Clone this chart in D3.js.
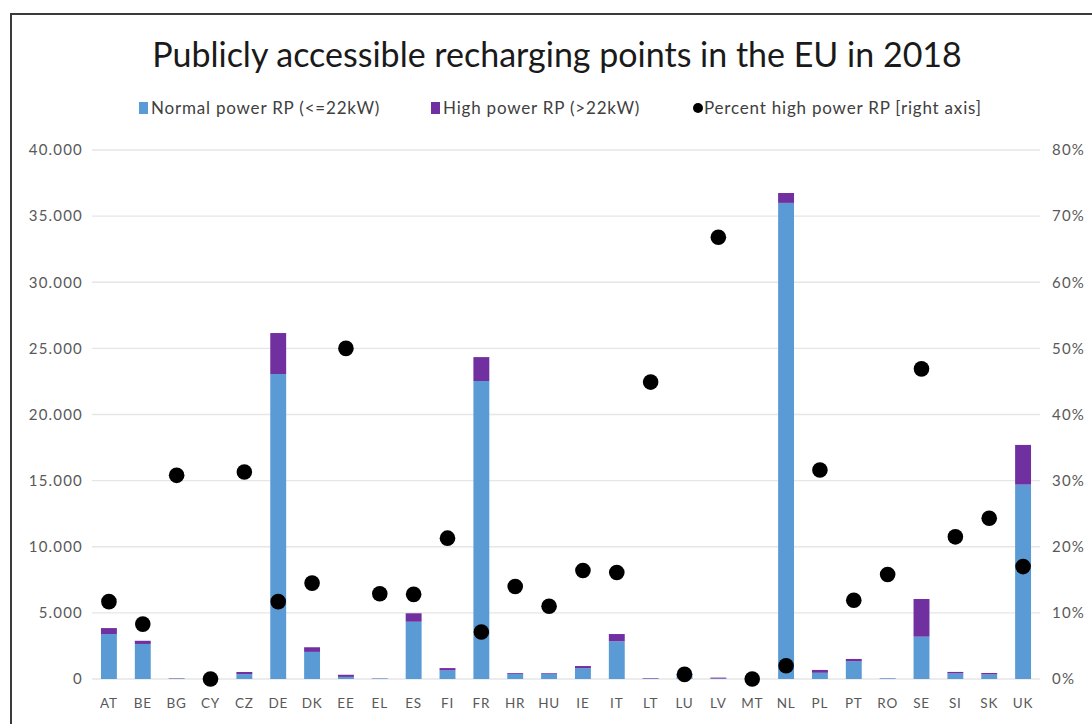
<!DOCTYPE html>
<html>
<head>
<meta charset="utf-8">
<script src="https://cdn.jsdelivr.net/npm/d3@7"></script>
<style>
  body { margin: 0; background: #fff; }
  svg { display: block; font-family: Lato, "Open Sans", sans-serif; }
  .grid line { stroke: #e6e6e6; stroke-width: 1.3; }
  .tick-label { fill: #595959; font-size: 15px; letter-spacing: 1.2px; }
  .cat-label { fill: #595959; font-size: 13.5px; letter-spacing: 0.8px; }
</style>
</head>
<body>
<svg width="1092" height="724"></svg>
<script>
// country codes
var countries = ["AT","BE","BG","CY","CZ","DE","DK","EE","EL","ES","FI","FR","HR","HU",
                 "IE","IT","LT","LU","LV","MT","NL","PL","PT","RO","SE","SI","SK","UK"];

// normal power recharging points (<=22kW)
var normalRP = [3400, 2650, 42, 25, 365, 23060, 2050, 160, 45, 4330, 650, 22530, 390, 400,
                820, 2850, 40, 400, 35, 10, 36000, 470, 1335, 50, 3200, 420, 345, 14700];

// high power recharging points (>22kW)
var highRP = [450, 240, 19, 0, 165, 3100, 350, 160, 7, 640, 175, 1810, 63, 50,
              160, 550, 33, 3, 70, 0, 750, 215, 180, 9, 2850, 115, 110, 3000];

// percent high power (right axis)
var pctHigh = [0.117, 0.083, 0.308, 0, 0.313, 0.117, 0.145, 0.50, 0.129, 0.128, 0.213, 0.071, 0.14, 0.11,
               0.164, 0.161, 0.449, 0.007, 0.668, 0, 0.02, 0.316, 0.119, 0.158, 0.469, 0.215, 0.243, 0.17];

var leftTicks = [0, 5000, 10000, 15000, 20000, 25000, 30000, 35000, 40000];
var rightTicks = [0, 0.1, 0.2, 0.3, 0.4, 0.5, 0.6, 0.7, 0.8];

var colNormal = "#5b9bd5",
    colHigh = "#7030a0";

var svg = d3.select("svg");

// outer frame (runs off the right and bottom edges like the screenshot)
svg.append("rect")
    .attr("x", 11).attr("y", 14)
    .attr("width", 1100).attr("height", 730)
    .attr("fill", "none")
    .attr("stroke", "#3a3a3a")
    .attr("stroke-width", 2);

//define scales
var x = d3.scaleBand().domain(countries).range([92, 1040]).paddingInner(0.53).paddingOuter(0.265),
    y = d3.scaleLinear().domain([0, 40000]).range([679, 150]),
    y2 = d3.scaleLinear().domain([0, 0.8]).range([679, 150]);

var numFmt = d3.formatLocale({decimal: ",", thousands: ".", grouping: [3], currency: ["", "€"]}).format(",");
var pctFmt = d3.format(".0%");

// gridlines
svg.append("g")
    .attr("class", "grid")
    .selectAll("line")
    .data(leftTicks)
    .enter().append("line")
    .attr("x1", 92).attr("x2", 1040)
    .attr("y1", function(d) { return y(d); })
    .attr("y2", function(d) { return y(d); });

// left axis labels
svg.append("g")
    .selectAll("text")
    .data(leftTicks)
    .enter().append("text")
    .attr("class", "tick-label")
    .attr("x", 83)
    .attr("y", function(d) { return y(d); })
    .attr("dy", "0.35em")
    .attr("text-anchor", "end")
    .text(function(d) { return numFmt(d); });

// right axis labels
svg.append("g")
    .selectAll("text")
    .data(rightTicks)
    .enter().append("text")
    .attr("class", "tick-label")
    .attr("x", 1052)
    .attr("y", function(d) { return y2(d); })
    .attr("dy", "0.35em")
    .text(function(d) { return pctFmt(d); });

// stack the two bar series
var rows = countries.map(function(c, i) {
    return {country: c, normal: normalRP[i], high: highRP[i], pct: pctHigh[i]};
});
var stack = d3.stack().keys(["normal", "high"])(rows);
var colors = {normal: colNormal, high: colHigh};

svg.append("g")
    .selectAll("g")
    .data(stack)
    .enter().append("g")
    .attr("fill", function(d) { return colors[d.key]; })
    .selectAll("rect")
    .data(function(d) { return d; })
    .enter().append("rect")
    .attr("x", function(d) { return x(d.data.country); })
    .attr("width", x.bandwidth())
    .attr("y", function(d) { return y(d[1]); })
    .attr("height", function(d) { return Math.max(0, y(d[0]) - y(d[1])); });

// percent dots
svg.append("g")
    .selectAll("circle")
    .data(rows)
    .enter().append("circle")
    .attr("cx", function(d) { return x(d.country) + x.bandwidth() / 2; })
    .attr("cy", function(d) { return y2(d.pct); })
    .attr("r", 7.8)
    .attr("fill", "#000");

// category labels
svg.append("g")
    .selectAll("text")
    .data(countries)
    .enter().append("text")
    .attr("class", "cat-label")
    .attr("x", function(d) { return x(d) + x.bandwidth() / 2; })
    .attr("y", 708)
    .attr("text-anchor", "middle")
    .text(function(d) { return d; });

//chart title
svg.append("text")
    .attr("x", 557)
    .attr("y", 67)
    .attr("text-anchor", "middle")
    .style("font-size", "34px")
    .attr("fill", "#1a1a1a")
    .text("Publicly accessible recharging points in the EU in 2018");

// legend
var legendItems = [
    {label: "Normal power RP (<=22kW)", type: "rect", color: colNormal, x: 139},
    {label: "High power RP (>22kW)", type: "rect", color: colHigh, x: 431},
    {label: "Percent high power RP [right axis]", type: "dot", color: "#000", x: 692}
];
var legend = svg.append("g").selectAll("g")
    .data(legendItems)
    .enter().append("g")
    .attr("transform", function(d) { return "translate(" + d.x + ",108)"; });

legend.filter(function(d) { return d.type === "rect"; })
    .append("rect")
    .attr("x", 0).attr("y", -6)
    .attr("width", 9).attr("height", 12)
    .attr("fill", function(d) { return d.color; });

legend.filter(function(d) { return d.type === "dot"; })
    .append("circle")
    .attr("cx", 6).attr("cy", 0)
    .attr("r", 5)
    .attr("fill", "#000");

legend.append("text")
    .attr("x", 12)
    .attr("dy", "0.35em")
    .style("font-size", "17px")
    .style("letter-spacing", "0.8px")
    .attr("fill", "#404040")
    .text(function(d) { return d.label; });
</script>
</body>
</html>
